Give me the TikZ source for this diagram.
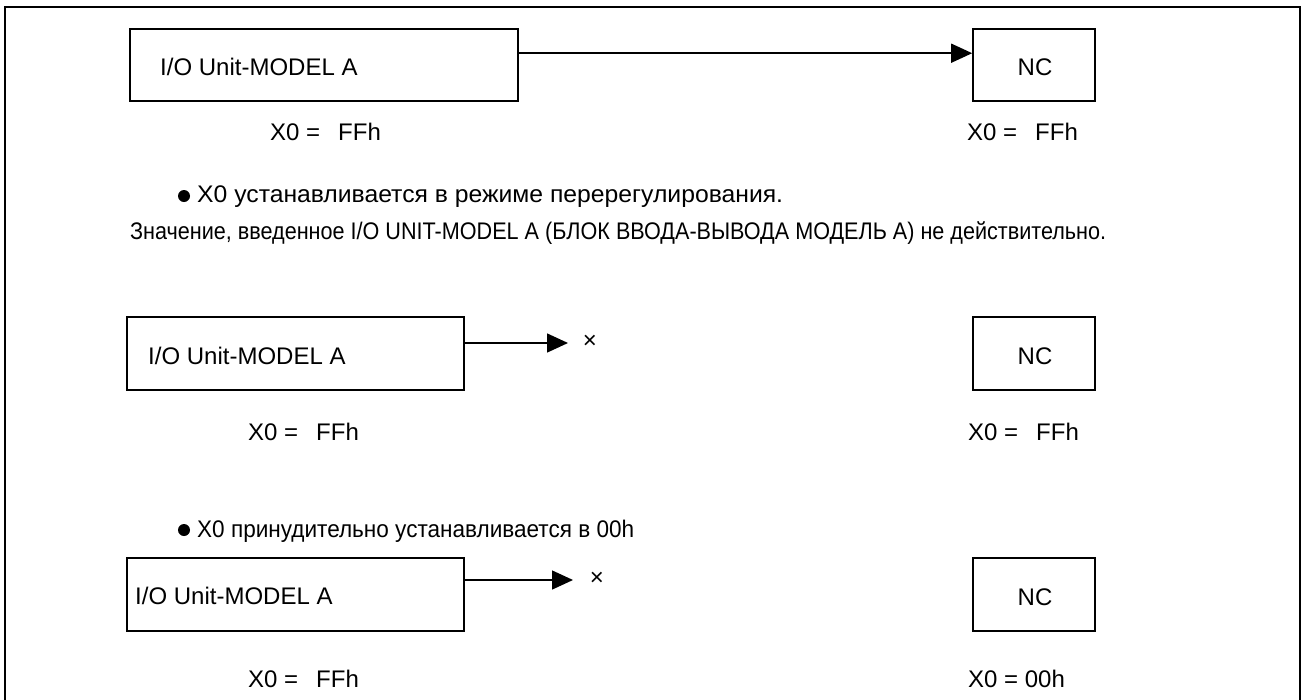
\documentclass[tikz,border=0pt]{standalone}
\usepackage{fontspec}
\setmainfont{Liberation Sans}
\usetikzlibrary{arrows.meta}
\begin{document}
\begin{tikzpicture}[x=1pt,y=-1pt,
  blk/.style={draw,line width=1.6pt,inner sep=0pt},
  txt/.style={font=\fontsize{24}{28}\selectfont,inner sep=0pt,anchor=west},
  ru/.style={font=\fontsize{24}{28}\selectfont,inner sep=0pt,anchor=west},
  conn/.style={line width=1.5pt,-{Triangle[length=21pt,width=19pt]}},
  dot/.style={circle,fill,inner sep=0pt,minimum size=12pt}]
\useasboundingbox (0,0) rectangle (1304,699);
\draw[line width=2.5pt] (5,720) -- (5,7) -- (1300,7) -- (1300,720);

% section 1
\node[blk,minimum width=388pt,minimum height=72pt] (b1) at (324,65) {};
\node[txt] (t1) at (160,67) {I/O Unit-MODEL A};
\node[blk,minimum width=122pt,minimum height=72pt] (n1) at (1034,65) {};
\node[txt,anchor=center] (tn1) at (1035,67) {NC};
\draw[conn] ([yshift=-25pt]b1.north east) -- ([yshift=-25pt]n1.north west);
\node[txt] (x1) at (270,132) {X0 =\hspace{0.75em}FFh};
\node[txt] (y1) at (967,132) {X0 =\hspace{0.75em}FFh};

\node[dot] (d1) at (184,196) {};
\node[ru] (r1) at (197,197) {\scalebox{1.03}[1]{X0 устанавливается в режиме перерегулирования.}};
\node[ru] (r2) at (130,233) {\scalebox{0.9}[1]{Значение, введенное I/O UNIT-MODEL A (БЛОК ВВОДА-ВЫВОДА МОДЕЛЬ А) не действительно.}};

% section 2
\node[blk,minimum width=337pt,minimum height=73pt] (b2) at (295.5,353.5) {};
\node[txt] (t2) at (148,356) {I/O Unit-MODEL A};
\node[blk,minimum width=122pt,minimum height=73pt] (n2) at (1034,353.5) {};
\node[txt,anchor=center] (tn2) at (1035,356) {NC};
\coordinate (e2) at (568,343);
\draw[conn] (b2.east |- e2) -- (e2);
\node[txt,anchor=center] (c2) at (590,342) {×};
\node[txt] (x2) at (248,432) {X0 =\hspace{0.75em}FFh};
\node[txt] (y2) at (968,432) {X0 =\hspace{0.75em}FFh};

\node[dot] (d2) at (184,530) {};
\node[ru] (r3) at (197,531) {\scalebox{0.94}[1]{X0 принудительно устанавливается в 00h}};

% section 3
\node[blk,minimum width=337pt,minimum height=73pt] (b3) at (295.5,594.5) {};
\node[txt] (t3) at (135,596) {I/O Unit-MODEL A};
\node[blk,minimum width=122pt,minimum height=73pt] (n3) at (1034,594.5) {};
\node[txt,anchor=center] (tn3) at (1035,597) {NC};
\coordinate (e3) at (573,580);
\draw[conn] (b3.east |- e3) -- (e3);
\node[txt,anchor=center] (c3) at (597,579) {×};
\node[txt] (x3) at (248,679) {X0 =\hspace{0.75em}FFh};
\node[txt] (y3) at (968,679) {X0 = 00h};
\end{tikzpicture}
\end{document}
